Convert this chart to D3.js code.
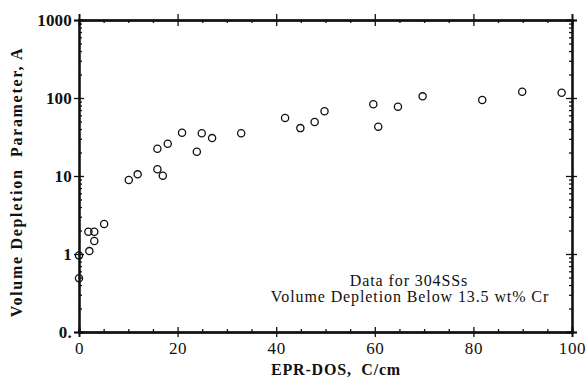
<!DOCTYPE html>
<html>
<head>
<meta charset="utf-8">
<script src="https://cdn.jsdelivr.net/npm/d3@7"></script>
<style>
  body { margin: 0; background: #fff; }
  svg text { font-family: "Liberation Serif", "Times New Roman", serif; fill: #111; }
  .axis path, .axis line { stroke: #111; }
</style>
</head>
<body>
<div id="chart"></div>
<script>
// EPR-DOS (C/cm) and volume depletion parameter A
const eprDos = [0, 0, 2.1, 1.9, 3.1, 3.1, 5.1, 10.1, 11.9, 15.9, 17.0, 15.9, 18.0, 20.9,
  23.9, 24.9, 27.0, 32.9, 41.8, 44.9, 47.8, 49.8, 59.7, 60.7, 64.7, 69.7, 81.8, 89.9, 97.9];
const depletionA = [0.49, 0.96, 1.09, 1.93, 1.93, 1.47, 2.42, 8.9, 10.5, 12.2, 10.1, 22.4, 25.9, 35.9,
  20.5, 35.3, 30.6, 35.3, 55.6, 41.1, 49.2, 67.5, 83, 42.9, 77.5, 105, 94.3, 120, 117];

const xMajor = [0, 20, 40, 60, 80, 100];
const xMinor = d3.range(0, 101, 5).filter(v => v % 20 !== 0);
const yMajor = [0.1, 1, 10, 100, 1000];
const yLabels = ["0.", "1", "10", "100", "1000"];
const yMinor = [0.1, 1, 10, 100].flatMap(d => d3.range(2, 10).map(k => +(d * k).toPrecision(3)));

const width = 586, height = 383;
const margin = {top: 20, right: 14, bottom: 51, left: 79};
const w = width - margin.left - margin.right,
      h = height - margin.top - margin.bottom;

const svg = d3.select('#chart').append('svg')
    .attr('width', width).attr('height', height);
const g = svg.append('g').attr('transform', `translate(${margin.left},${margin.top})`);

const x = d3.scaleLinear([0, 100], [0, w]);
const y = d3.scaleLog([0.1, 1000], [h, 0]);

function styleAxis(sel, sw) {
  sel.classed('axis', true);
  sel.select('.domain').attr('stroke-width', sw);
  sel.selectAll('.tick line').attr('stroke-width', 1.3);
  return sel;
}

// bottom
g.append('g').attr('transform', `translate(0,${h})`)
  .call(d3.axisBottom(x).tickValues(xMajor).tickSize(5).tickPadding(5).tickFormat(d3.format('d')))
  .call(s => styleAxis(s, 1.8))
  .call(s => s.selectAll('text').style('font-size', '17px').style('letter-spacing', '0.6px').attr('fill', '#111'));
g.append('g').attr('transform', `translate(0,${h})`)
  .call(d3.axisBottom(x).tickValues(xMajor).tickSize(-5).tickFormat(''))
  .call(s => styleAxis(s, 1.8));
g.append('g').attr('transform', `translate(0,${h})`)
  .call(d3.axisBottom(x).tickValues(xMinor).tickSize(-3).tickFormat(''))
  .call(s => styleAxis(s, 1.8));
// top
g.append('g')
  .call(d3.axisTop(x).tickValues(xMajor).tickSize(6).tickFormat(''))
  .call(s => styleAxis(s, 1.8));
g.append('g')
  .call(d3.axisTop(x).tickValues(xMajor).tickSize(-6).tickFormat(''))
  .call(s => styleAxis(s, 1.8));
g.append('g')
  .call(d3.axisTop(x).tickValues(xMinor).tickSize(-3).tickFormat(''))
  .call(s => styleAxis(s, 1.8));
// left
g.append('g')
  .call(d3.axisLeft(y).tickValues(yMajor).tickSize(5).tickPadding(2).tickFormat((d, i) => yLabels[i]))
  .call(s => styleAxis(s, 1.8))
  .call(s => s.selectAll('text').style('font-size', '17px').style('font-weight', 'bold')
    .style('letter-spacing', '0.2px').attr('fill', '#111'));
g.append('g')
  .call(d3.axisLeft(y).tickValues(yMajor).tickSize(-5).tickFormat(''))
  .call(s => styleAxis(s, 1.8));
g.append('g')
  .call(d3.axisLeft(y).tickValues(yMinor).tickSize(-3).tickFormat(''))
  .call(s => styleAxis(s, 1.8));
// right
g.append('g').attr('transform', `translate(${w},0)`)
  .call(d3.axisRight(y).tickValues(yMajor).tickSize(5).tickFormat(''))
  .call(s => styleAxis(s, 1.8));
g.append('g').attr('transform', `translate(${w},0)`)
  .call(d3.axisRight(y).tickValues(yMajor).tickSize(-6).tickFormat(''))
  .call(s => styleAxis(s, 1.8));
g.append('g').attr('transform', `translate(${w},0)`)
  .call(d3.axisRight(y).tickValues(yMinor).tickSize(-3).tickFormat(''))
  .call(s => styleAxis(s, 1.8));

// points
g.selectAll('circle.pt')
  .data(eprDos.map((d, i) => [d, depletionA[i]]))
  .join('circle')
  .classed('pt', true)
  .attr('cx', d => x(d[0]))
  .attr('cy', d => y(d[1]))
  .attr('r', 3.6)
  .attr('fill', 'none')
  .attr('stroke', '#111')
  .attr('stroke-width', 1.3);

// annotation
const note = g.append('text')
  .attr('text-anchor', 'middle')
  .style('font-size', '16px')
  .style('letter-spacing', '0.9px');
note.append('tspan').attr('x', 330).attr('y', 266).text('Data for 304SSs');
note.append('tspan').attr('x', 331).attr('y', 282).text('Volume Depletion Below 13.5 wt% Cr');

// axis titles
svg.append('text')
  .attr('x', 336).attr('y', 375)
  .attr('text-anchor', 'middle')
  .style('font-size', '16px').style('font-weight', 'bold')
  .style('letter-spacing', '0.8px')
  .style('white-space', 'pre')
  .text('EPR-DOS,  C/cm');

svg.append('text')
  .attr('transform', `translate(22,${margin.top + h / 2 + 6}) rotate(-90)`)
  .attr('text-anchor', 'middle')
  .style('font-size', '16px').style('font-weight', 'bold')
  .style('letter-spacing', '1.7px')
  .style('white-space', 'pre')
  .text('Volume Depletion  Parameter, A');
</script>
</body>
</html>
